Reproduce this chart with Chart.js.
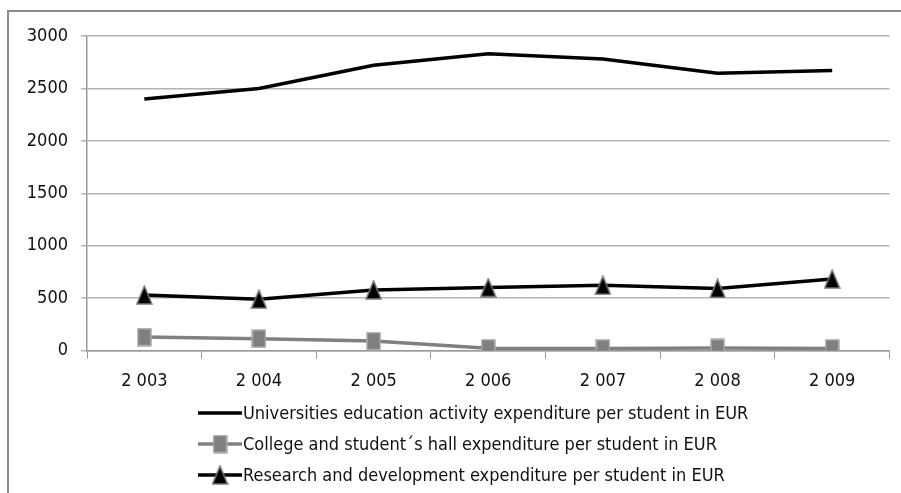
<!DOCTYPE html>
<html>
<head>
<meta charset="utf-8">
<script src="https://cdn.jsdelivr.net/npm/chart.js@4.4.1/dist/chart.umd.min.js"></script>
<style>
  html, body { margin: 0; padding: 0; background: #ffffff; }
  #wrap { position: relative; width: 901px; height: 493px; overflow: hidden; }
  canvas { display: block; }
</style>
</head>
<body>
<div id="wrap"><canvas id="chart" width="901" height="493"></canvas></div>
<script>
// Expenditure per student (EUR), 2003–2009
const years = ['2 003', '2 004', '2 005', '2 006', '2 007', '2 008', '2 009'];
const universitiesEducation = [2400, 2500, 2720, 2830, 2780, 2645, 2670];
const collegeAndHall = [128, 113, 90, 22, 20, 24, 20];
const researchDevelopment = [530, 490, 578, 600, 622, 592, 682];
const seriesNames = [
  'Universities education activity expenditure per student in EUR',
  'College and student\u00b4s hall expenditure per student in EUR',
  'Research and development expenditure per student in EUR'
];
const yTicks = { min: 0, max: 3000, step: 500 };

const FONT = '"DejaVu Sans Condensed", "Liberation Sans", sans-serif';
const FONT_SIZE = 18;

// Marker images (slightly taller than wide)
function makeMarker(shape, w, h, fill, stroke) {
  const c = document.createElement('canvas');
  c.width = w; c.height = h;
  const g = c.getContext('2d');
  g.fillStyle = fill;
  g.strokeStyle = stroke;
  g.lineWidth = 1.5;
  g.beginPath();
  if (shape === 'triangle') {
    g.moveTo(w / 2, 1);
    g.lineTo(w - 1, h - 1);
    g.lineTo(1, h - 1);
    g.closePath();
  } else {
    g.rect(1, 1, w - 2, h - 2);
  }
  g.fill();
  g.stroke();
  return c;
}
const squareMarker = makeMarker('square', 15, 19, '#7f7f7f', '#a9a9a9');
const triangleMarker = makeMarker('triangle', 17, 20, '#000000', '#7a7a7a');

// Outer frame of the chart object
const framePlugin = {
  id: 'frame',
  beforeDraw(chart) {
    const ctx = chart.ctx;
    ctx.save();
    ctx.fillStyle = '#ffffff';
    ctx.fillRect(0, 0, chart.width, chart.height);
    ctx.strokeStyle = '#8a8a8a';
    ctx.lineWidth = 2;
    ctx.strokeRect(8, 11, 1200, 1200);
    ctx.restore();
  }
};

// Legend: stacked rows with line sample + marker, left aligned
const stackedLegend = {
  id: 'stackedLegend',
  afterDraw(chart, args, opts) {
    const ctx = chart.ctx;
    ctx.save();
    chart.data.datasets.forEach((ds, i) => {
      const y = opts.top + i * opts.rowGap;
      const x0 = opts.left, x1 = opts.left + opts.sampleWidth;
      ctx.strokeStyle = ds.borderColor;
      ctx.lineWidth = ds.borderWidth;
      ctx.beginPath();
      ctx.moveTo(x0, y);
      ctx.lineTo(x1, y);
      ctx.stroke();
      if (ds.pointStyle && typeof ds.pointStyle === 'object' && ds.pointRadius > 0) {
        const m = ds.pointStyle;
        ctx.drawImage(m, (x0 + x1) / 2 - m.width / 2, y - m.height / 2);
      }
      ctx.fillStyle = '#111111';
      ctx.font = FONT_SIZE + 'px ' + FONT;
      ctx.textBaseline = 'middle';
      ctx.textAlign = 'left';
      ctx.fillText(ds.label, x1 + 1, y + 1);
    });
    ctx.restore();
  }
};

new Chart(document.getElementById('chart'), {
  type: 'line',
  data: {
    labels: years,
    datasets: [
      {
        label: seriesNames[0],
        data: universitiesEducation,
        borderColor: '#000000',
        backgroundColor: '#000000',
        borderWidth: 3.5,
        pointRadius: 0,
        pointHoverRadius: 0,
        tension: 0
      },
      {
        label: seriesNames[1],
        data: collegeAndHall,
        borderColor: '#808080',
        backgroundColor: '#7f7f7f',
        borderWidth: 3.5,
        pointStyle: squareMarker,
        pointRadius: 8,
        tension: 0
      },
      {
        label: seriesNames[2],
        data: researchDevelopment,
        borderColor: '#000000',
        backgroundColor: '#000000',
        borderWidth: 3.5,
        pointStyle: triangleMarker,
        pointRadius: 8,
        tension: 0
      }
    ]
  },
  options: {
    responsive: false,
    animation: false,
    events: [],
    layout: { padding: { top: 36, right: 6, left: 0, bottom: 0 } },
    plugins: {
      legend: { display: false },
      tooltip: { enabled: false },
      stackedLegend: { left: 198, top: 413, rowGap: 31, sampleWidth: 44 }
    },
    scales: {
      x: {
        offset: true,
        afterFit(scale) { scale.height = 493 - 350.5; },
        grid: {
          offset: true,
          drawOnChartArea: false,
          drawTicks: true,
          tickLength: 8,
          color: '#9a9a9a',
          lineWidth: 1
        },
        border: { display: true, color: '#9a9a9a', width: 1.5 },
        ticks: {
          color: '#111111',
          font: { family: FONT, size: FONT_SIZE },
          padding: 12,
          maxRotation: 0
        }
      },
      y: {
        min: yTicks.min,
        max: yTicks.max,
        afterFit(scale) { scale.width = 87; },
        grid: {
          color: '#b4b4b4',
          lineWidth: 1.5,
          drawTicks: true,
          tickLength: 6
        },
        border: { display: true, color: '#9a9a9a', width: 1.5 },
        ticks: {
          stepSize: yTicks.step,
          callback: (v) => String(v),
          color: '#111111',
          font: { family: FONT, size: FONT_SIZE },
          padding: 13
        }
      }
    }
  },
  plugins: [framePlugin, stackedLegend]
});
</script>
</body>
</html>
